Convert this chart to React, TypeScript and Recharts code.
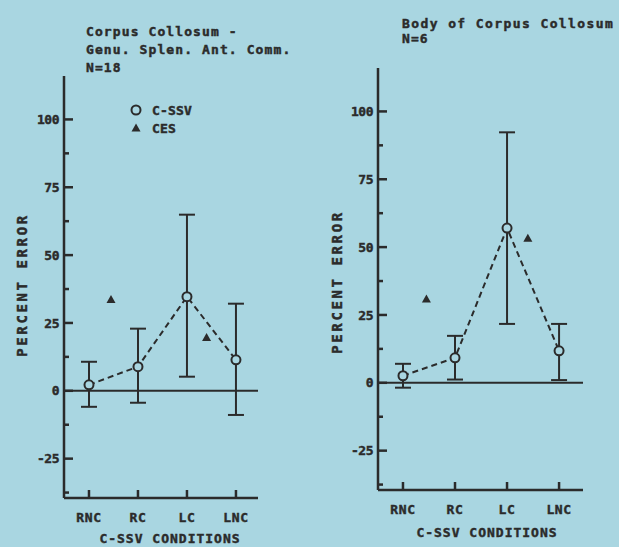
import { ComposedChart, Line, Scatter, XAxis, YAxis, ReferenceLine, ErrorBar } from 'recharts'

const BG = '#a9d6e1'
const INK = '#2b2b2b'
const FONT = '"DejaVu Sans Mono", monospace'

// categories on the x axis (placed at 1..4 on a numeric scale)
const conditions = ['RNC', 'RC', 'LC', 'LNC']
const conditionX = [1, 2, 3, 4]
// the CES triangles sit between categories in the original
const cesX = [1.45, 3.4]

// left panel: genu, splenium, ant. comm. (N=18)
const leftSsv = [2.2, 8.9, 34.7, 11.4]
const leftSsvLow = [8.1, 13.3, 29.5, 20.3]
const leftSsvHigh = [8.5, 14, 30.2, 20.7]
const leftCes = [33.6, 19.6]

// right panel: body of corpus callosum (N=6)
const rightSsv = [2.6, 9.2, 57, 11.8]
const rightSsvLow = [4.4, 8, 35.3, 10.8]
const rightSsvHigh = [4.4, 8.1, 35.3, 9.9]
const rightCes = [30.9, 53.3]

const yTicks = [-37.5, -25, -12.5, 0, 12.5, 25, 37.5, 50, 62.5, 75, 87.5, 100]
const yDomain: [number, number] = [-39.5, 116]

// heavy "plotter" lettering
const txt = {
  fill: INK,
  stroke: INK,
  strokeWidth: 0.45,
  fontFamily: FONT,
  fontWeight: 'bold' as const,
  fontSize: 13,
}

const YTick = (props: any) => {
  const { x, y, payload } = props
  const v = payload.value as number
  const major = Math.abs(v % 25) < 0.001
  return (
    <g>
      <line x1={x} x2={x + (major ? 9 : 5)} y1={y} y2={y} stroke={INK} strokeWidth={2.5} />
      {major && (
        <text x={x - 5} y={y} dy="0.36em" textAnchor="end" {...txt} letterSpacing={-0.5}>
          {v}
        </text>
      )}
    </g>
  )
}

const XTick = (props: any) => {
  const { x, y, payload } = props
  return (
    <g>
      <line x1={x} x2={x} y1={y} y2={y - 8} stroke={INK} strokeWidth={2.5} />
      <text x={x} y={y + 24} textAnchor="middle" {...txt} letterSpacing={0.6}>
        {conditions[payload.value - 1]}
      </text>
    </g>
  )
}

const OpenDot = (p: any) => (
  <circle key={p.index} cx={p.cx} cy={p.cy} r={4.5} fill={BG} stroke={INK} strokeWidth={2} />
)

const Tri = (p: any) => (
  <polygon
    points={`${p.cx},${p.cy - 4.5} ${p.cx - 4.5},${p.cy + 3.5} ${p.cx + 4.5},${p.cy + 3.5}`}
    fill={INK}
  />
)

interface PanelProps {
  left: number
  width: number
  top: number
  plotBottom: number
  axisW: number
  right: number
  xDomain: [number, number]
  ssv: number[]
  low: number[]
  high: number[]
  ces: number[]
}

function Panel({ left, width, top, plotBottom, axisW, right, xDomain, ssv, low, high, ces }: PanelProps) {
  const lineData = conditionX.map((c, i) => ({ x: c, ssv: ssv[i], err: [low[i], high[i]] }))
  const cesData = cesX.map((c, i) => ({ x: c, ces: ces[i] }))
  return (
    <div style={{ position: 'absolute', left, top: 0 }}>
      <ComposedChart width={width} height={547} margin={{ top, right, bottom: 0, left: 0 }}>
        <XAxis
          type="number"
          dataKey="x"
          domain={xDomain}
          ticks={conditionX}
          interval={0}
          allowDataOverflow
          height={547 - plotBottom}
          tickSize={0}
          tickMargin={0}
          tickLine={false}
          tick={<XTick />}
          axisLine={{ stroke: INK, strokeWidth: 2.5 }}
        />
        <YAxis
          type="number"
          domain={yDomain}
          ticks={yTicks}
          interval={0}
          allowDataOverflow
          width={axisW}
          tickSize={0}
          tickMargin={0}
          tickLine={false}
          tick={<YTick />}
          axisLine={{ stroke: INK, strokeWidth: 2.5 }}
        />
        <ReferenceLine y={0} stroke={INK} strokeWidth={2} />
        <Line
          data={lineData}
          dataKey="ssv"
          stroke={INK}
          strokeWidth={2}
          strokeDasharray="6 4"
          dot={OpenDot}
          activeDot={false}
          isAnimationActive={false}
        >
          <ErrorBar dataKey="err" width={8} stroke={INK} strokeWidth={2} direction="y" />
        </Line>
        <Scatter data={cesData} dataKey="ces" shape={Tri} isAnimationActive={false} />
      </ComposedChart>
    </div>
  )
}

export default function App() {
  return (
    <div style={{ position: 'absolute', left: 0, top: 0, width: 619, height: 547, background: BG, overflow: 'hidden' }}>
      <Panel
        left={0}
        width={300}
        top={76}
        plotBottom={498}
        axisW={64}
        right={42}
        xDomain={[0.49, 4.45]}
        ssv={leftSsv}
        low={leftSsvLow}
        high={leftSsvHigh}
        ces={leftCes}
      />
      <Panel
        left={310}
        width={309}
        top={68}
        plotBottom={490}
        axisW={68}
        right={36}
        xDomain={[0.52, 4.46]}
        ssv={rightSsv}
        low={rightSsvLow}
        high={rightSsvHigh}
        ces={rightCes}
      />
      <svg width={619} height={547} style={{ position: 'absolute', left: 0, top: 0, pointerEvents: 'none' }}>
        {/* left panel titles */}
        <text x={86} y={36} {...txt} letterSpacing={1.1}>Corpus Collosum -</text>
        <text x={86} y={54} {...txt} letterSpacing={1.1}>Genu. Splen. Ant. Comm.</text>
        <text x={86} y={72} {...txt} letterSpacing={1.1}>N=18</text>
        {/* legend */}
        <circle cx={136} cy={110} r={4.5} fill={BG} stroke={INK} strokeWidth={2} />
        <text x={152} y={115} {...txt} letterSpacing={0.2}>C-SSV</text>
        <polygon points="136,123.5 131.5,131.5 140.5,131.5" fill={INK} />
        <text x={152} y={133} {...txt} letterSpacing={0.2}>CES</text>
        <text x={22} y={285} {...txt} fontSize={14} letterSpacing={2.6} textAnchor="middle" dominantBaseline="central" transform="rotate(-90 22 285)">
          PERCENT ERROR
        </text>
        <text x={170} y={543} {...txt} letterSpacing={1} textAnchor="middle">C-SSV CONDITIONS</text>
        {/* right panel titles */}
        <text x={402} y={28} {...txt} letterSpacing={1.4}>Body of Corpus Collosum</text>
        <text x={402} y={43} {...txt} letterSpacing={1.1}>N=6</text>
        <text x={337} y={282} {...txt} fontSize={14} letterSpacing={2.6} textAnchor="middle" dominantBaseline="central" transform="rotate(-90 337 282)">
          PERCENT ERROR
        </text>
        <text x={487} y={537} {...txt} letterSpacing={1} textAnchor="middle">C-SSV CONDITIONS</text>
      </svg>
    </div>
  )
}
